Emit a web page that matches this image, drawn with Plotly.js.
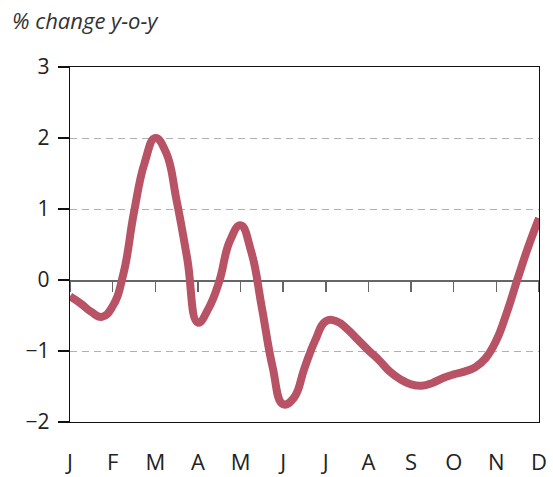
<!DOCTYPE html>
<html>
<head>
<meta charset="utf-8">
<script src="https://cdn.plot.ly/plotly-3.0.1.min.js"></script>
<style>
  html, body { margin: 0; padding: 0; background: #fff; }
  #chart { width: 553px; height: 477px; }
</style>
</head>
<body>
<div id="chart"></div>
<script>
// Month tick labels and their positions (month index)
const monthLabels = ['J', 'F', 'M', 'A', 'M', 'J', 'J', 'A', 'S', 'O', 'N', 'D'];
const monthPos = [0, 1, 2, 3, 4, 5, 6, 7, 8, 9, 10, 11];

const obsMonth = [
  0, 0.25, 0.5, 0.75, 1, 1.25, 1.5, 1.75, 2, 2.25, 2.5, 2.75,
  3, 3.25, 3.5, 3.75, 4, 4.25, 4.5, 4.75, 5, 5.25, 5.5, 5.75,
  6, 6.25, 6.5, 6.75, 7, 7.25, 7.5, 7.75, 8, 8.25, 8.5, 8.75,
  9, 9.25, 9.5, 9.75, 10, 10.25, 10.5, 10.75, 11
];
// % change y-o-y
const obsValue = [
  -0.23, -0.33, -0.45, -0.52, -0.37, 0.08, 0.95, 1.65, 2.00, 1.80, 1.12, 0.30,
  -0.60, -0.40, -0.02, 0.55, 0.77, 0.40, -0.39, -1.22, -1.75, -1.66, -1.24, -0.85,
  -0.58, -0.58, -0.69, -0.84, -0.99, -1.13, -1.29, -1.40, -1.47, -1.49, -1.45, -1.38,
  -1.33, -1.29, -1.23, -1.10, -0.85, -0.45, 0.02, 0.47, 0.87
];

// Y axis ticks
const yTicks = [-2, -1, 0, 1, 2, 3];
const yTickText = ['\u22122', '\u22121', '0', '1', '2', '3'];

const FONT = 'Open Sans, Lato, DejaVu Sans, sans-serif';

const traces = [
  {
    x: obsMonth,
    y: obsValue,
    type: 'scatter',
    mode: 'lines',
    line: { color: '#b85265', width: 8, shape: 'spline', smoothing: 1.3 },
    hoverinfo: 'skip',
    xaxis: 'x',
    yaxis: 'y'
  },
  {
    x: monthPos,
    y: monthPos.map(() => null),
    type: 'scatter',
    mode: 'lines',
    hoverinfo: 'skip',
    showlegend: false,
    xaxis: 'x2',
    yaxis: 'y'
  }
];

const layout = {
  width: 553,
  height: 477,
  margin: { l: 70, r: 14, t: 67, b: 55 },
  paper_bgcolor: '#ffffff',
  plot_bgcolor: '#ffffff',
  showlegend: false,
  font: { family: FONT, color: '#222' },
  title: {
    text: '% change y-o-y',
    font: { family: FONT, size: 22, style: 'italic', color: '#333' },
    xref: 'container', x: 12 / 553, xanchor: 'left',
    yref: 'container', y: 1 - 21 / 477, yanchor: 'middle'
  },
  xaxis: {
    range: [monthPos[0], monthPos[monthPos.length - 1]],
    tickvals: monthPos,
    ticktext: monthLabels,
    ticks: '',
    showgrid: false,
    zeroline: false,
    showline: true,
    linecolor: '#111',
    linewidth: 1.3,
    mirror: true,
    tickfont: { family: FONT, size: 22, color: '#222' },
    ticklabelstandoff: 20,
    fixedrange: true
  },
  xaxis2: {
    overlaying: 'x',
    anchor: 'free',
    position: (0 - (-2)) / (3 - (-2)),
    range: [monthPos[0], monthPos[monthPos.length - 1]],
    tickvals: monthPos,
    ticks: 'outside',
    ticklen: 10,
    tickwidth: 1.5,
    tickcolor: '#666',
    showticklabels: false,
    showgrid: false,
    zeroline: false,
    showline: true,
    linecolor: '#666',
    linewidth: 1.5,
    layer: 'below traces',
    fixedrange: true
  },
  yaxis: {
    range: [-2, 3],
    tickvals: yTicks,
    ticktext: yTickText,
    ticks: 'outside',
    ticklen: 11,
    tickwidth: 1.3,
    tickcolor: '#111',
    showgrid: true,
    gridcolor: '#b0b0b0',
    gridwidth: 1,
    griddash: '7px,5px',
    zeroline: false,
    showline: true,
    linecolor: '#111',
    linewidth: 1.3,
    mirror: true,
    tickfont: { family: FONT, size: 21, color: '#222' },
    ticklabelstandoff: 4,
    fixedrange: true
  },
  shapes: [
    {
      type: 'line',
      xref: 'x', x0: monthPos[0], x1: monthPos[0],
      yref: 'y', ysizemode: 'pixel', yanchor: yTicks[0], y0: 0, y1: -10,
      line: { color: '#111', width: 1.3 }
    }
  ]
};

Plotly.newPlot('chart', traces, layout, { staticPlot: true, displayModeBar: false });
</script>
</body>
</html>
